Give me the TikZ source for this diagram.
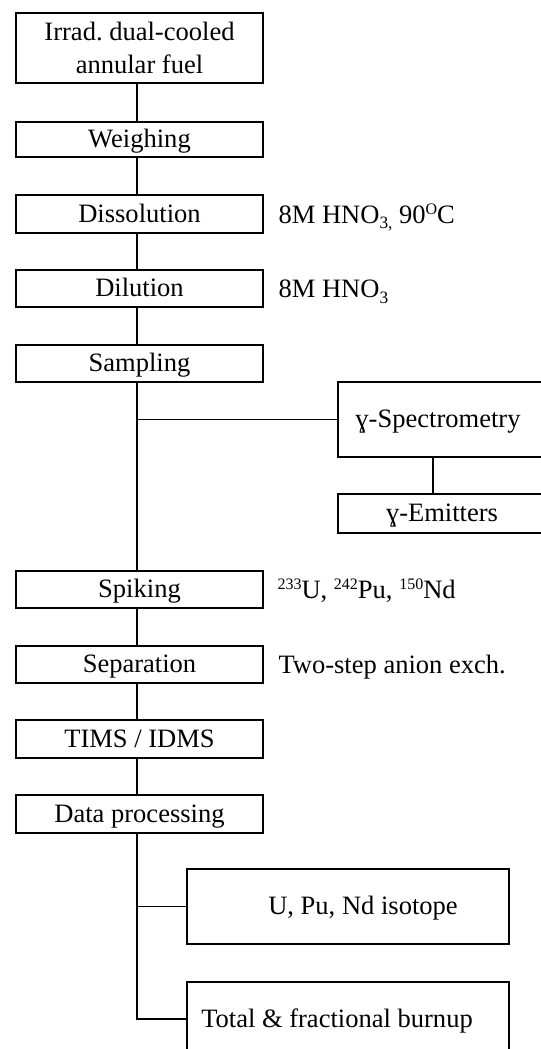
\documentclass[tikz,border=0pt]{standalone}
\usepackage{fontspec}
\setmainfont{Liberation Serif}
\frenchspacing
\newcommand\mysup[1]{\raisebox{0.33em}{\fontsize{12pt}{12pt}\selectfont #1}}
\newcommand\mysub[1]{\raisebox{-0.22em}{\fontsize{13pt}{13pt}\selectfont #1}}
\begin{document}
\begin{tikzpicture}[x=0.75pt,y=-0.75pt,
  font=\fontsize{19.9pt}{24.75pt}\selectfont,
  line width=0.8pt,
  box/.style={draw, rectangle, inner sep=0pt, text height=12pt, text depth=0pt},
  sz/.style 2 args={minimum width=#1*0.75pt, minimum height=#2*0.75pt},
  side/.style={anchor=base west, inner sep=0pt}]
\useasboundingbox (0,0) rectangle (540,1049);
\coordinate (spine) at (137,0);
\coordinate (spine2) at (433,0);
% main column
\node[box, sz={247}{70}, text height=, text depth=, align=center] (irr) at (139.5,48) {Irrad. dual-cooled\\annular fuel};
\node[box, sz={247}{35}] (weigh) at (139.5,139.5) {Weighing};
\node[box, sz={247}{38}] (diss) at (139.5,214) {Dissolution};
\node[box, sz={247}{37}] (dil) at (139.5,288.5) {Dilution};
\node[box, sz={247}{37}] (samp) at (139.5,363.5) {Sampling};
\node[box, sz={247}{37}] (spik) at (139.5,589.5) {Spiking};
\node[box, sz={247}{37}] (sep) at (139.5,664.5) {Separation};
\node[box, sz={247}{38}] (tims) at (139.5,739) {TIMS / IDMS};
\node[box, sz={247}{38}] (data) at (139.5,814) {Data processing};
% gamma branch
\node[box, sz={208}{75}] (gspec) at (442,419.5) {ɣ-Spectrometry\hspace*{6pt}};
\node[box, sz={208}{39}] (gemit) at (442,513.5) {ɣ-Emitters};
% results
\node[box, sz={322}{75}] (upn) at (348,906.5) {\hspace*{22.5pt}U, Pu, Nd isotope};
\node[box, sz={322}{74}] (tot) at (348,1019) {Total \& fractional burnup\hspace*{16.5pt}};
% side notes
\node[side] (n1) at (278,223) {8M HNO\mysub{3,} 90\mysup{O}C};
\node[side] (n2) at (278,297.5) {8M HNO\mysub{3}};
\node[side] (n3) at (277,598) {\mysup{233}U, \mysup{242}Pu, \mysup{150}Nd};
\node[side] (n4) at (278,673) {Two-step anion exch.};
% connectors
\foreach \a/\b in {irr/weigh, weigh/diss, diss/dil, dil/samp, samp/spik, spik/sep, sep/tims, tims/data}
  \draw (\a.south -| spine) -- (\b.north -| spine);
\draw (gspec.west -| spine) -- (gspec.west);
\draw (gspec.south -| spine2) -- (gemit.north -| spine2);
\draw (data.south -| spine) -- (tot.west -| spine) -- (tot.west);
\draw (upn.west -| spine) -- (upn.west);
\end{tikzpicture}
\end{document}
